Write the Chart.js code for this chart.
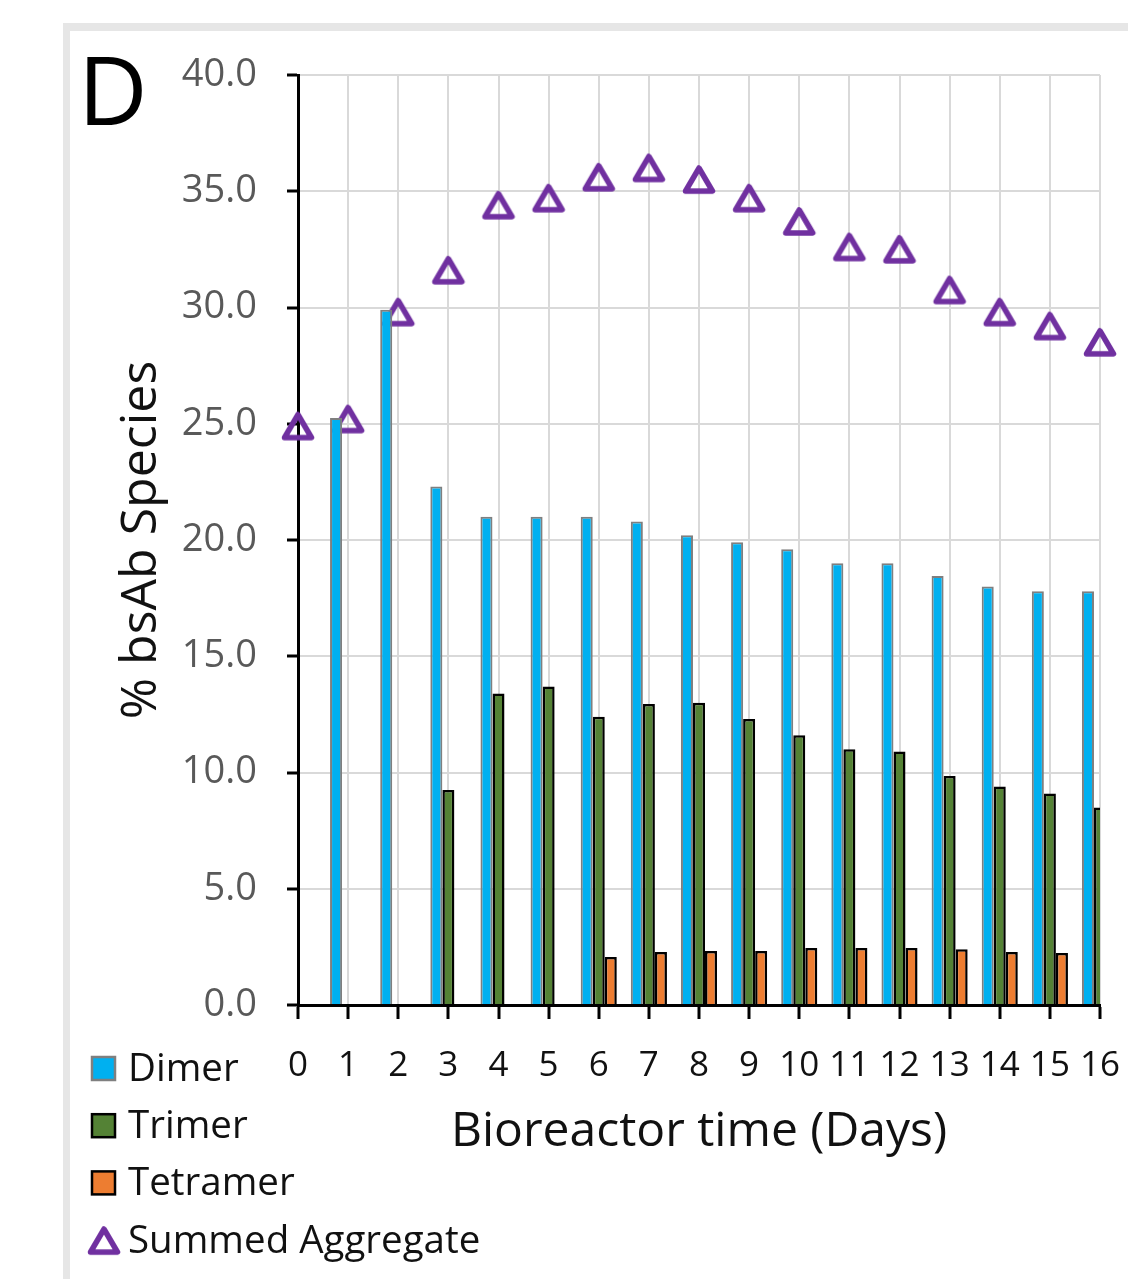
<!DOCTYPE html>
<html>
<head>
<meta charset="utf-8">
<script src="https://cdn.jsdelivr.net/npm/chart.js@4/dist/chart.umd.min.js"></script>
<style>
    html, body { margin: 0; padding: 0; background: #fff; }
    body { width: 1128px; height: 1279px; position: relative; overflow: hidden; }
    .panel {
        position: absolute; left: 63px; top: 23px; width: 1200px; height: 1400px;
        border-left: 7px solid #e6e6e6; border-top: 8px solid #e6e6e6;
    }
    .panel-label {
        position: absolute; left: 78px; top: 30px;
        font: 96px "Open Sans", sans-serif; color: #000; line-height: 1.2;
    }
    #chart { position: absolute; left: 0; top: 0; }
</style>
</head>
<body>
<div class="panel"></div>
<div class="panel-label">D</div>
<canvas id="chart" width="1128" height="1279"></canvas>
<script>
// Bioreactor days
const days = [0, 1, 2, 3, 4, 5, 6, 7, 8, 9, 10, 11, 12, 13, 14, 15, 16];

// % bsAb species
const dimer    = [24.9, 25.25, 29.9, 22.3, 21.0, 21.0, 21.0, 20.8, 20.2, 19.9, 19.6, 19.0, 19.0, 18.45, 18.0, 17.8, 17.8];
const trimer   = [null, null, null, 9.25, 13.4, 13.7, 12.4, 12.95, 13.0, 12.3, 11.6, 11.0, 10.9, 9.85, 9.4, 9.1, 8.5];
const tetramer = [null, null, null, null, null, null, 2.06, 2.28, 2.32, 2.32, 2.45, 2.45, 2.45, 2.4, 2.28, 2.24, 2.2];
const summed   = [24.9, 25.2, 29.8, 31.6, 34.4, 34.7, 35.6, 36.0, 35.5, 34.7, 33.7, 32.6, 32.5, 30.75, 29.8, 29.2, 28.5];

const yTicks = [0, 5, 10, 15, 20, 25, 30, 35, 40];

const FONT = '"Open Sans", sans-serif';
const PURPLE = '#7030a0';

// hollow triangle marker, centred on its own box
function makeTriangle() {
    const c = document.createElement('canvas');
    c.width = 36; c.height = 33;
    const g = c.getContext('2d');
    g.strokeStyle = PURPLE;
    g.lineWidth = 5.5;
    g.lineJoin = 'round';
    g.beginPath();
    g.moveTo(18, 5);
    g.lineTo(31.5, 28);
    g.lineTo(4.5, 28);
    g.closePath();
    g.stroke();
    return c;
}
const triangle = makeTriangle();

const toPoints = arr => days.map((d, i) => ({ x: d, y: arr[i] }));

// legend stacked under the y axis, bottom left
const sideLegend = {
    id: 'sideLegend',
    afterDraw(chart) {
        const ctx = chart.ctx;
        ctx.save();
        ctx.font = '38.5px ' + FONT;
        ctx.textBaseline = 'middle';
        ctx.fillStyle = '#111';
        chart.data.datasets.forEach((ds, i) => {
            const y = 1069 + i * 57.2;
            if (ds.type === 'line') {
                ctx.drawImage(triangle, 104 - 18, y - 16.5);
            } else {
                ctx.fillStyle = ds.backgroundColor;
                ctx.fillRect(92, y - 12, 23, 23);
                ctx.strokeStyle = ds.borderColor;
                ctx.lineWidth = 2.5;
                ctx.strokeRect(92, y - 12, 23, 23);
                ctx.fillStyle = '#111';
            }
            ctx.fillText(ds.label, 128, y + 1);
        });
        ctx.restore();
    }
};

new Chart(document.getElementById('chart'), {
    type: 'bar',
    data: {
        datasets: [{
            label: 'Dimer',
            data: toPoints(dimer),
            backgroundColor: '#00b0f0',
            borderColor: '#7f7f7f',
            borderWidth: 2
        }, {
            label: 'Trimer',
            data: toPoints(trimer),
            backgroundColor: '#548235',
            borderColor: '#000',
            borderWidth: 2.5
        }, {
            label: 'Tetramer',
            data: toPoints(tetramer),
            backgroundColor: '#ed7d31',
            borderColor: '#000',
            borderWidth: 2.5
        }, {
            type: 'line',
            label: 'Summed Aggregate',
            data: toPoints(summed),
            showLine: false,
            pointStyle: triangle,
            pointRadius: 15,
            borderColor: PURPLE,
            backgroundColor: 'transparent',
            clip: false
        }]
    },
    options: {
        responsive: false,
        animation: false,
        categoryPercentage: 0.72,
        barPercentage: 1.0,
        layout: { padding: { left: 0, right: 28, top: 75, bottom: 0 } },
        plugins: {
            legend: { display: false },
            tooltip: { enabled: false }
        },
        scales: {
            x: {
                type: 'linear',
                min: 0,
                max: 16,
                offset: false,
                afterFit: s => {
                    s.height = 274;
                    s.paddingLeft = 0;
                    s.paddingRight = 0;
                },
                afterBuildTicks: s => { s.ticks = days.map(v => ({ value: v })); },
                grid: {
                    offset: false,
                    color: '#d9d9d9',
                    lineWidth: 2,
                    tickColor: '#000',
                    tickWidth: 3,
                    tickLength: 14
                },
                border: { color: '#000', width: 3 },
                ticks: {
                    autoSkip: false,
                    maxRotation: 0,
                    padding: 26,
                    color: '#111',
                    font: { family: FONT, size: 35 },
                    callback: v => String(v)
                },
                title: {
                    display: true,
                    text: 'Bioreactor time (Days)',
                    color: '#111',
                    font: { family: FONT, size: 48 },
                    padding: { top: 0, bottom: 118 }
                }
            },
            y: {
                min: 0,
                max: 40,
                afterFit: s => { s.width = 298; },
                afterBuildTicks: s => { s.ticks = yTicks.map(v => ({ value: v })); },
                grid: {
                    color: '#d9d9d9',
                    lineWidth: 2,
                    tickColor: '#000',
                    tickWidth: 3,
                    tickLength: 11
                },
                border: { color: '#000', width: 3 },
                ticks: {
                    padding: 30,
                    color: '#595959',
                    font: { family: FONT, size: 38 },
                    callback: v => v.toFixed(1)
                },
                title: {
                    display: true,
                    text: '% bsAb Species',
                    color: '#111',
                    font: { family: FONT, size: 50 },
                    padding: { top: 112, bottom: 0 }
                }
            }
        }
    },
    plugins: [sideLegend]
});
</script>
</body>
</html>
